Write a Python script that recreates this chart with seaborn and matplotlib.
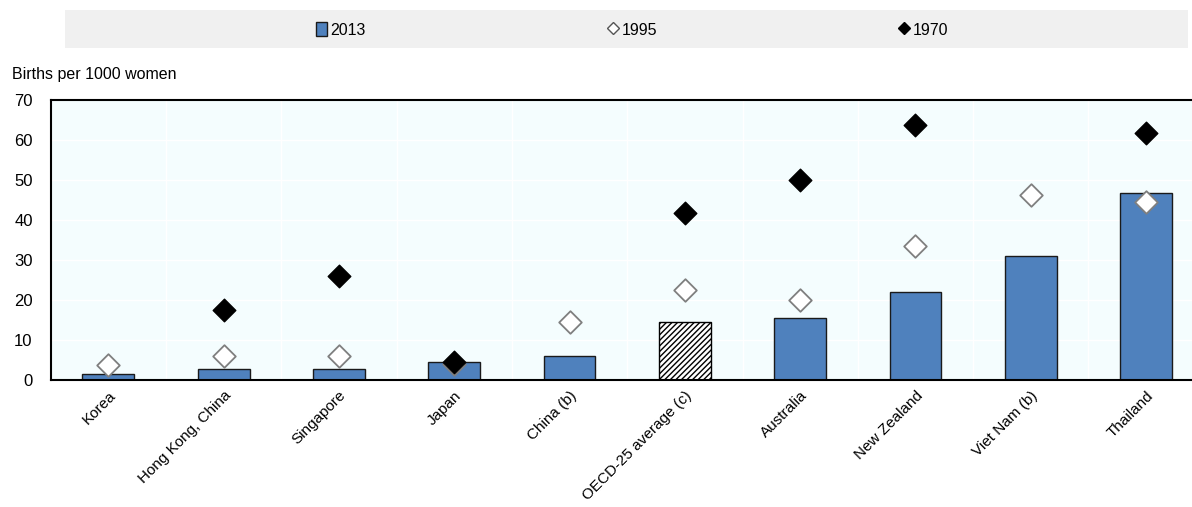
import matplotlib
matplotlib.use("Agg")
import matplotlib.pyplot as plt
from matplotlib.patches import Rectangle
from matplotlib.lines import Line2D
from matplotlib.patches import Patch
import seaborn as sns
import numpy as np
import pandas as pd

categories = ["Korea", "Hong Kong, China", "Singapore", "Japan", "China (b)",
              "OECD-25 average (c)", "Australia", "New Zealand", "Viet Nam (b)", "Thailand"]
v2013 = [1.5, 2.8, 2.8, 4.4, 5.9, 14.6, 15.4, 21.9, 30.9, 46.8]
v1995 = [3.7, 6.0, 6.0, 3.9, 14.5, 22.6, 20.1, 33.4, 46.3, 44.6]
v1970 = [np.nan, 17.5, 26.1, 4.5, np.nan, 41.8, 50.1, 63.8, np.nan, 61.7]
yticks = [0, 10, 20, 30, 40, 50, 60, 70]

sns.set_theme(style="white")
plt.rcParams['font.family'] = ['Liberation Sans', 'DejaVu Sans']
plt.rcParams['text.color'] = 'black'
plt.rcParams['xtick.color'] = 'black'
plt.rcParams['ytick.color'] = 'black'

df = pd.DataFrame({"cat": categories, "v2013": v2013, "v1995": v1995, "v1970": v1970})

fig = plt.figure(figsize=(11.92, 5.07), dpi=100)
ax = fig.add_axes([50.7/1192, 127/507, 1153/1192, 280/507])
ax.set_facecolor("#F4FDFE")

sns.barplot(data=df, x="cat", y="v2013", order=categories, color="#4F81BD",
            saturation=1, width=0.45, edgecolor="#1a1a1a", linewidth=1.0, ax=ax, zorder=2)
# OECD average hatched
for p, c in zip(ax.patches, categories):
    if c.startswith("OECD"):
        p.set_facecolor("white")
        p.set_hatch("//////")
        p.set_edgecolor("black")

sns.stripplot(data=df, x="cat", y="v1995", order=categories, jitter=False, marker="D",
              size=11.5, color="white", edgecolor="#7f7f7f", linewidth=1.3, ax=ax, zorder=3)
sns.stripplot(data=df, x="cat", y="v1970", order=categories, jitter=False, marker="D",
              size=11.5, color="black", edgecolor="black", linewidth=1.0, ax=ax, zorder=4)

ax.set_xlim(-0.5, len(categories) - 0.5)
ax.set_ylim(0, 70)
ax.set_yticks(yticks)
ax.set_xlabel("")
ax.set_ylabel("")

# gridlines (white)
for y in yticks[1:-1]:
    ax.axhline(y, color="white", lw=1.0, zorder=1)
for i in range(len(categories) - 1):
    ax.axvline(i + 0.5, color="white", lw=1.0, zorder=1)

ax.set_xticks(np.arange(len(categories)))
ax.set_xticklabels(categories, rotation=45, ha="right", rotation_mode="anchor", fontsize=11)
ax.tick_params(axis="x", length=0, pad=6, labelcolor="black")
ax.tick_params(axis="y", direction="in", length=5, width=1.2, color="black", labelsize=12,
               pad=13, labelcolor="black")
# category boundary ticks (minor)
ax.set_xticks(np.arange(len(categories) - 1) + 0.5, minor=True)
ax.tick_params(axis="x", which="minor", direction="in", length=5, width=1.5, color="black")

for s in ["left", "top", "bottom", "right"]:
    ax.spines[s].set_color("black")
    ax.spines[s].set_linewidth(1.5)

fig.text(12/1192, 1 - 74/507, "Births per 1000 women", fontsize=11.5, va="center", ha="left",
         color="black")

# legend band
fig.patches.append(Rectangle((65/1192, 1 - 48/507), (1188-65)/1192, 38/507,
                             transform=fig.transFigure, facecolor="#F0F0F0", edgecolor="none", zorder=0))
handles = [Patch(facecolor="#4F81BD", edgecolor="#1a1a1a", label="2013"),
           Line2D([], [], ls="none", marker="D", markersize=6, markerfacecolor="white",
                  markeredgecolor="#555555", label="1995"),
           Line2D([], [], ls="none", marker="D", markersize=6, markerfacecolor="black",
                  markeredgecolor="black", label="1970")]
leg = fig.legend(handles=handles, ncol=3, loc="center", bbox_to_anchor=(632/1192, 1 - 30/507),
                 frameon=False, fontsize=11.5, columnspacing=15.1, handlelength=0.7, handleheight=1.0,
                 handletextpad=0.2)
for t in leg.get_texts():
    t.set_color("black")

fig.savefig("out.png", dpi=100)
